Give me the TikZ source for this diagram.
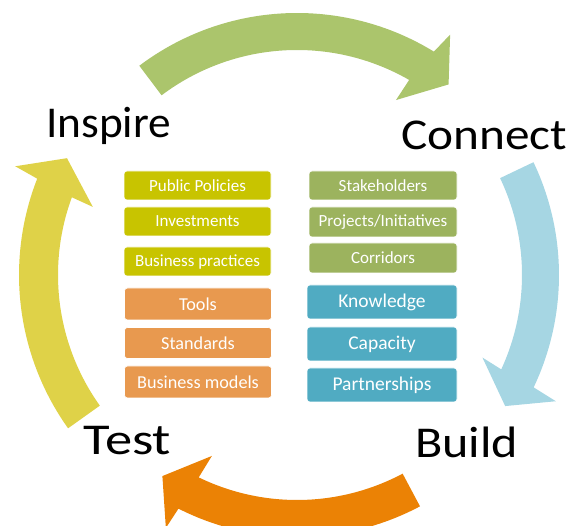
\documentclass[tikz,border=0pt]{standalone}
\usepackage{fontspec}
\setmainfont{Carlito}
\definecolor{arrgreen}{HTML}{ABC56C}
\definecolor{arrblue}{HTML}{A6D6E3}
\definecolor{arrorange}{HTML}{EB8205}
\definecolor{arryellow}{HTML}{DFD248}
\definecolor{bxyellow}{HTML}{C8C400}
\definecolor{bxorange}{HTML}{E8994F}
\definecolor{bxgreen}{HTML}{9CB35E}
\definecolor{bxteal}{HTML}{50ABC2}
\begin{document}
\begin{tikzpicture}[x=1pt,y=1pt,
  box/.style={rounded corners=3pt, draw=white, line width=0.6pt, text=white, inner sep=0pt},
  lbox/.style={box, minimum width=147pt, font=\fontsize{17}{17}\selectfont},
  obox/.style={lbox, fill=bxorange, font=\fontsize{18.2}{18.2}\selectfont},
  rbox/.style={box, minimum width=148pt, font=\fontsize{17}{17}\selectfont},
  tbox/.style={box, minimum width=150pt, minimum height=34pt, font=\fontsize{19.5}{19.5}\selectfont},
  big/.style={font=\fontsize{44}{44}\selectfont, anchor=base west, inner sep=0pt, transform shape},
]
\useasboundingbox (0,0) rectangle (569,526);
\clip (0,0) rectangle (569,526);

% green arrow (top)
\begin{scope}[shift={(297,251)}]
\fill[arrgreen] (127:262pt) arc[start angle=127, end angle=58.5, radius=262pt]
  -- (57.5:285pt) -- (51.5:243.5pt) -- (60.5:201pt) -- (60.1:225pt)
  arc[start angle=60.1, end angle=127, radius=225pt] -- cycle;
% blue arrow (right)
\fill[arrblue] (25.5:262pt) arc[start angle=25.5, end angle=-25.4, radius=262pt]
  -- (-26:288pt) -- (-32.2:246pt) -- (-24:203pt) -- (-24.8:225pt)
  arc[start angle=-24.8, end angle=25.5, radius=225pt] -- cycle;
% orange arrow (bottom)
\fill[arrorange] (-62:262pt) arc[start angle=-62, end angle=-116.9, radius=262pt]
  -- (-117.4:285pt) -- (-123.8:242pt) -- (-115.2:200pt) -- (-115.9:225pt)
  arc[start angle=-115.9, end angle=-62, radius=225pt] -- cycle;
\end{scope}
% yellow arrow (left)
\begin{scope}[shift={(283,251)}]
\fill[arryellow] (215.5:264pt) arc[start angle=215.5, end angle=158.6, radius=264pt]
  -- (157.9:289pt) -- (151.6:245.6pt) -- (160.3:202pt) -- (159.8:225pt)
  arc[start angle=159.8, end angle=215.5, radius=225pt] -- cycle;
\end{scope}

% labels
\node[big, xscale=1.03] (inspire) at (46,388) {Inspire};
\node[big, xscale=1.12] (connect) at (401,376) {Connect};
\node[big, xscale=1.24] (test) at (83,71) {Test};
\node[big, xscale=1.14] (build) at (415,68) {Build};

% left boxes
\node[lbox, fill=bxyellow, minimum height=29pt] (pp) at (197.5,340.5) {Public Policies};
\node[lbox, fill=bxyellow, minimum height=29pt] (inv) at (197.5,304.5) {Investments};
\node[lbox, fill=bxyellow, minimum height=29pt] (bp) at (197.5,264.5) {Business practices};
\node[obox, minimum height=32pt] (tools) at (198,222) {Tools};
\node[obox, minimum height=31pt] (std) at (198,183) {Standards};
\node[obox, minimum height=32pt] (bm) at (198,144) {Business models};

% right boxes
\node[rbox, fill=bxgreen, minimum height=29pt] (stake) at (383,340.5) {Stakeholders};
\node[rbox, fill=bxgreen, minimum height=30pt] (proj) at (383,304) {Projects/Initiatives};
\node[rbox, fill=bxgreen, minimum height=30pt] (corr) at (383,268) {Corridors};
\node[tbox, fill=bxteal] (know) at (382,224) {Knowledge};
\node[tbox, fill=bxteal] (cap) at (382,182) {Capacity};
\node[tbox, fill=bxteal] (part) at (382,141) {Partnerships};
\end{tikzpicture}
\end{document}
